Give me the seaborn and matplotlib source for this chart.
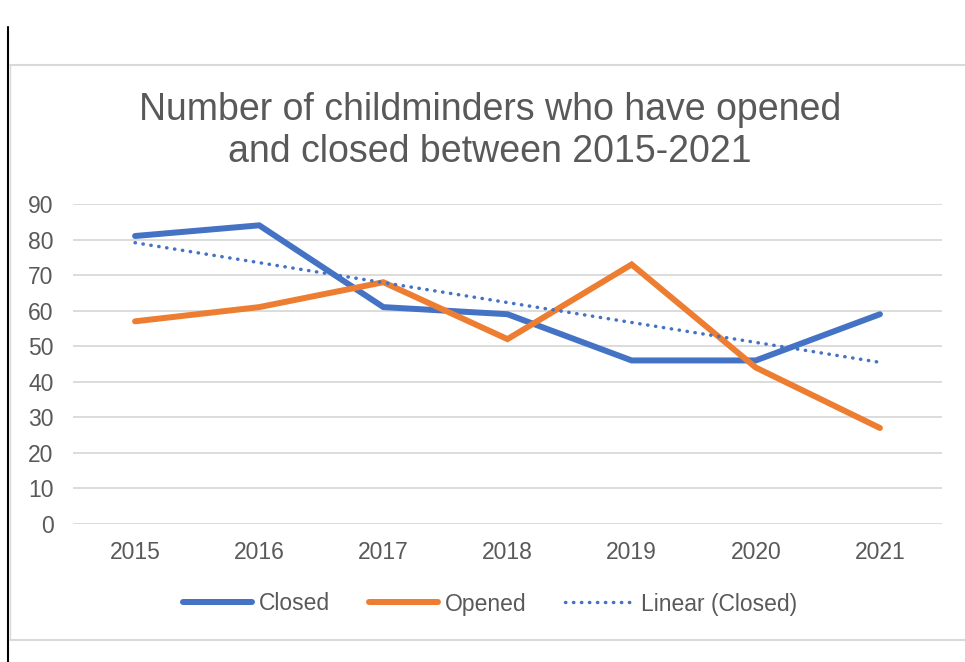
import numpy as np
import pandas as pd
import seaborn as sns
import matplotlib.pyplot as plt
from matplotlib.lines import Line2D

# Data
years = [2015, 2016, 2017, 2018, 2019, 2020, 2021]
closed = [81, 84, 61, 59, 46, 46, 59]
opened = [57, 61, 68, 52, 73, 44, 27]
y_ticks = [0, 10, 20, 30, 40, 50, 60, 70, 80, 90]

title = "Number of childminders who have opened\nand closed between 2015-2021"

BLUE = "#4472C4"
ORANGE = "#ED7D31"
GREY_TXT = "#595959"
GRID = "#D9D9D9"

sns.set_style("white")
plt.rcParams['font.family'] = ['Liberation Sans', 'DejaVu Sans']

# long-form table, categories placed at 0..6 like Excel category axis
pos = np.arange(len(years))
df = pd.DataFrame({
    "pos": np.concatenate([pos, pos]),
    "value": closed + opened,
    "series": ["Closed"] * len(years) + ["Opened"] * len(years),
})

# Excel-style linear trendline for Closed
slope, intercept = np.polyfit(pos, closed, 1)
trend = pd.DataFrame({"pos": pos, "value": slope * pos + intercept})

LW = 4.3
DOT = (0, (0.1, 2.2))

fig = plt.figure(figsize=(9.65, 6.62), dpi=100)
ax = fig.add_axes([73 / 965, 1 - 524 / 662, (942 - 73) / 965, 320 / 662])

sns.lineplot(data=df, x="pos", y="value", hue="series",
             palette={"Closed": BLUE, "Opened": ORANGE},
             linewidth=LW, ax=ax, legend=False,
             solid_capstyle="round", solid_joinstyle="miter")
sns.lineplot(data=trend, x="pos", y="value", color=BLUE, linewidth=2.5,
             linestyle=DOT, dash_capstyle="round", ax=ax, legend=False)

ax.set_xlim(-0.5, len(years) - 0.5)
ax.set_ylim(0, 90)
ax.set_xticks(pos)
ax.set_xticklabels([str(y) for y in years])
ax.set_yticks(y_ticks)
ax.set_xlabel("")
ax.set_ylabel("")
ax.tick_params(axis="both", length=0, labelsize=16.5, labelcolor=GREY_TXT)
ax.tick_params(axis="y", pad=14)
ax.tick_params(axis="x", pad=12)
ax.grid(axis="y", color=GRID, linewidth=1.3)
ax.set_axisbelow(True)
for s in ax.spines.values():
    s.set_visible(False)

fig.text(0.508, 1 - 131 / 662, title, ha="center", va="center",
         fontsize=27, color=GREY_TXT, linespacing=1.25)

handles = [
    Line2D([], [], color=BLUE, linewidth=LW, solid_capstyle="round"),
    Line2D([], [], color=ORANGE, linewidth=LW, solid_capstyle="round"),
    Line2D([], [], color=BLUE, linewidth=2.5, linestyle=DOT,
           dash_capstyle="round"),
]
leg = fig.legend(handles, ["Closed", "Opened", "Linear (Closed)"],
                 loc="center", bbox_to_anchor=(0.508, 1 - 604 / 662), ncol=3,
                 frameon=False, fontsize=16.5, handlelength=3.0,
                 handletextpad=0.3, columnspacing=1.7)
for t in leg.get_texts():
    t.set_color(GREY_TXT)

# chart frame and the black margin line from the document
fig.add_artist(Line2D([8 / 965, 8 / 965], [0, 1 - 27 / 662], color="black",
                      linewidth=1.5, transform=fig.transFigure))
fig.add_artist(Line2D([10 / 965, 1], [1 - 65 / 662, 1 - 65 / 662],
                      color=GRID, linewidth=1.5, transform=fig.transFigure))
fig.add_artist(Line2D([10 / 965, 1], [1 - 640 / 662, 1 - 640 / 662],
                      color=GRID, linewidth=1.5, transform=fig.transFigure))
fig.add_artist(Line2D([10 / 965, 10 / 965], [1 - 640 / 662, 1 - 65 / 662],
                      color=GRID, linewidth=1.0, transform=fig.transFigure))

fig.savefig("out.png", dpi=100)
